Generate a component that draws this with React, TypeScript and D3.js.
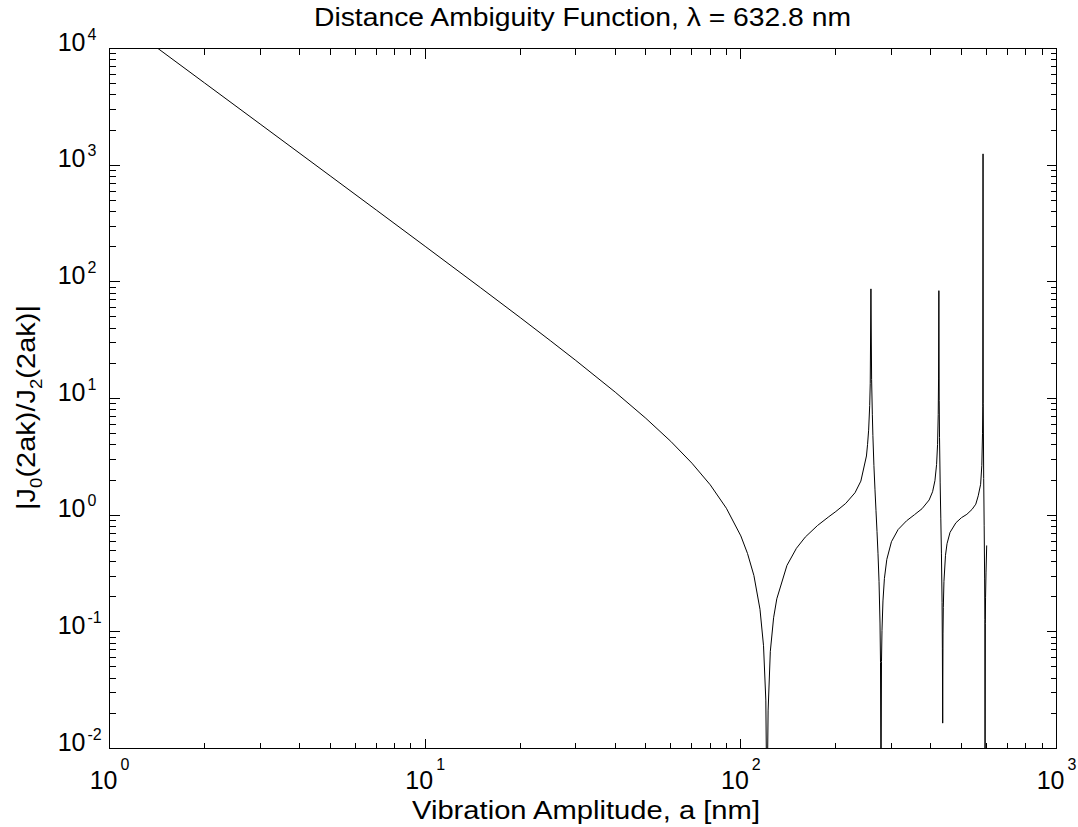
import * as d3 from "d3";
import { useEffect, useRef } from "react";

// vibration amplitude a [nm] and |J0(2ak)/J2(2ak)|
const amplitude = [
  1, 1.4, 2, 3, 5, 7, 10, 15, 20, 25, 30, 40, 50, 60, 70, 80, 90, 100, 105, 110,
  115, 118, 120, 121, 122, 124, 127, 130, 140, 150, 160, 175, 190, 200, 215, 230,
  240, 250, 252, 254, 256, 257, 258.3, 259.6, 261, 262, 264, 266, 268, 270, 272,
  274, 276, 277, 278, 279, 280, 282, 285, 290, 300, 315, 335, 355, 375, 395, 405,
  412, 417, 420, 422, 423, 424, 425, 426, 428, 430, 432, 434, 435, 436, 437, 438,
  440, 445, 450, 460, 480, 500, 520, 540, 555, 565, 575, 580, 583, 584, 585.2, 586,
  588, 590, 592, 593, 593.8, 595, 596, 598, 601,
];
const ratio = [
  20290, 10350, 5070, 2253, 810, 412.7, 201.5, 88.8, 49.4, 31.1, 21.2, 11.34, 6.77,
  4.29, 2.79, 1.82, 1.146, 0.664, 0.469, 0.304, 0.156, 0.076, 0.026, 0.0024, 0.021,
  0.068, 0.132, 0.192, 0.371, 0.52, 0.649, 0.816, 0.97, 1.075, 1.262, 1.557, 1.959,
  3.215, 4.02, 5.35, 8.7, 13.5, 87, 14.5, 7.25, 4.83, 2.66, 1.67, 1.1, 0.723, 0.467,
  0.271, 0.119, 0.0545, 0.0035, 0.0556, 0.103, 0.184, 0.287, 0.4175, 0.592, 0.7535,
  0.895, 1.01, 1.136, 1.35, 1.588, 1.974, 2.72, 4.04, 7.3, 14.7, 84, 9.58, 4.62,
  1.89, 0.943, 0.4725, 0.179, 0.0714, 0.0165, 0.096, 0.162, 0.27, 0.453, 0.569,
  0.712, 0.86, 0.952, 1.017, 1.12, 1.242, 1.465, 1.84, 2.67, 5.04, 8.6, 1250, 9.1,
  2.06, 0.81, 0.289, 0.127, 0.003, 0.118, 0.198, 0.32, 0.55,
];

const xExponents = [0, 1, 2, 3];
const yExponents = [-2, -1, 0, 1, 2, 3, 4];

const title = "Distance Ambiguity Function, \u03bb = 632.8 nm";
const xLabel = "Vibration Amplitude, a [nm]";

const App = () => {
  const ref = useRef<SVGSVGElement>(null);

  useEffect(() => {
    const W = 1078,
      H = 827;
    const margin = { top: 48, right: 22, bottom: 79, left: 109 },
      width = W - margin.left - margin.right,
      height = H - margin.top - margin.bottom;
    const font = '"Liberation Sans", Arial, Helvetica, sans-serif';

    const svg = d3.select(ref.current);
    svg.selectAll("*").remove();

    const g = svg
      .append("g")
      .attr("transform", `translate(${margin.left + 0.5},${margin.top + 0.5})`);

    const x = d3.scaleLog().domain([1, 1000]).range([0, width]);
    const y = d3.scaleLog().domain([0.01, 10000]).range([height, 0]);

    // clip for the curve
    svg
      .append("defs")
      .append("clipPath")
      .attr("id", "plot-clip")
      .append("rect")
      .attr("width", width)
      .attr("height", height);

    const line = d3
      .line<number>()
      .x((d) => x(d))
      .y((_, i) => y(ratio[i]));

    g.append("path")
      .datum(amplitude)
      .attr("clip-path", "url(#plot-clip)")
      .attr("fill", "none")
      .attr("stroke", "#000")
      .attr("stroke-width", 1)
      .attr("d", line);

    // ticks (inside, on all four sides)
    const minorOf = (exps: number[]) =>
      exps.slice(0, -1).flatMap((e) => d3.range(2, 10).map((k) => k * 10 ** e));
    const xMajor = xExponents.map((e) => 10 ** e);
    const yMajor = yExponents.map((e) => 10 ** e);
    const xMinor = minorOf(xExponents);
    const yMinor = minorOf(yExponents);
    const majorLen = 10,
      minorLen = 6;

    const ticks = g.append("g").attr("stroke", "#000").attr("shape-rendering", "crispEdges");
    const xTicks = [
      ...xMajor.map((v) => [v, majorLen]),
      ...xMinor.map((v) => [v, minorLen]),
    ];
    const yTicks = [
      ...yMajor.map((v) => [v, majorLen]),
      ...yMinor.map((v) => [v, minorLen]),
    ];
    xTicks.forEach(([v, len]) => {
      const px = Math.round(x(v));
      ticks.append("line").attr("x1", px).attr("x2", px).attr("y1", height).attr("y2", height - len);
      ticks.append("line").attr("x1", px).attr("x2", px).attr("y1", 0).attr("y2", len);
    });
    yTicks.forEach(([v, len]) => {
      const py = Math.round(y(v));
      ticks.append("line").attr("y1", py).attr("y2", py).attr("x1", 0).attr("x2", len);
      ticks.append("line").attr("y1", py).attr("y2", py).attr("x1", width).attr("x2", width - len);
    });

    // box
    g.append("rect")
      .attr("width", width)
      .attr("height", height)
      .attr("fill", "none")
      .attr("stroke", "#000")
      .attr("stroke-width", 1.2)
      .attr("shape-rendering", "crispEdges");

    // x tick labels: 10^e
    xExponents.forEach((e) => {
      const px = x(10 ** e);
      g.append("text")
        .attr("x", px + 8)
        .attr("y", height + 40)
        .attr("text-anchor", "end")
        .style("font-family", font)
        .style("font-size", "25px")
        .text("10");
      g.append("text")
        .attr("x", px + 11)
        .attr("y", height + 21)
        .style("font-family", font)
        .style("font-size", "16px")
        .text(String(e));
    });

    // y tick labels
    yExponents.forEach((e) => {
      const py = y(10 ** e);
      g.append("text")
        .attr("x", -24)
        .attr("y", py + 2)
        .attr("text-anchor", "end")
        .style("font-family", font)
        .style("font-size", "25px")
        .text("10");
      g.append("text")
        .attr("x", -22)
        .attr("y", py - 9)
        .style("font-family", font)
        .style("font-size", "16px")
        .text(String(e));
    });

    // title
    svg
      .append("text")
      .attr("x", 582.5)
      .attr("y", 26)
      .attr("text-anchor", "middle")
      .attr("textLength", 537)
      .attr("lengthAdjust", "spacingAndGlyphs")
      .style("font-family", font)
      .style("font-size", "25px")
      .text(title);

    // x label
    svg
      .append("text")
      .attr("x", 586)
      .attr("y", 819)
      .attr("text-anchor", "middle")
      .attr("textLength", 348)
      .attr("lengthAdjust", "spacingAndGlyphs")
      .style("font-family", font)
      .style("font-size", "25px")
      .text(xLabel);

    // y label with subscripts
    const yl = svg.append("g").attr("transform", "translate(35,407.5) rotate(-90)");
    const inner = yl.append("g");
    const yt = inner
      .append("text")
      .attr("text-anchor", "middle")
      .style("font-family", font)
      .style("font-size", "25px");
    yt.append("tspan").text("|J");
    yt.append("tspan").attr("dy", 7).style("font-size", "16px").text("0");
    yt.append("tspan").attr("dy", -7).text("(2ak)/J");
    yt.append("tspan").attr("dy", 7).style("font-size", "16px").text("2");
    yt.append("tspan").attr("dy", -7).text("(2ak)|");
    const node = yt.node() as SVGTextElement | null;
    if (node) {
      const len = node.getComputedTextLength();
      if (len > 0) inner.attr("transform", `scale(${205 / len},1)`);
    }
  }, []);

  return (
    <svg
      ref={ref}
      width={1078}
      height={827}
      style={{ position: "absolute", left: 0, top: 0, background: "#fff" }}
    />
  );
};

export default App;
